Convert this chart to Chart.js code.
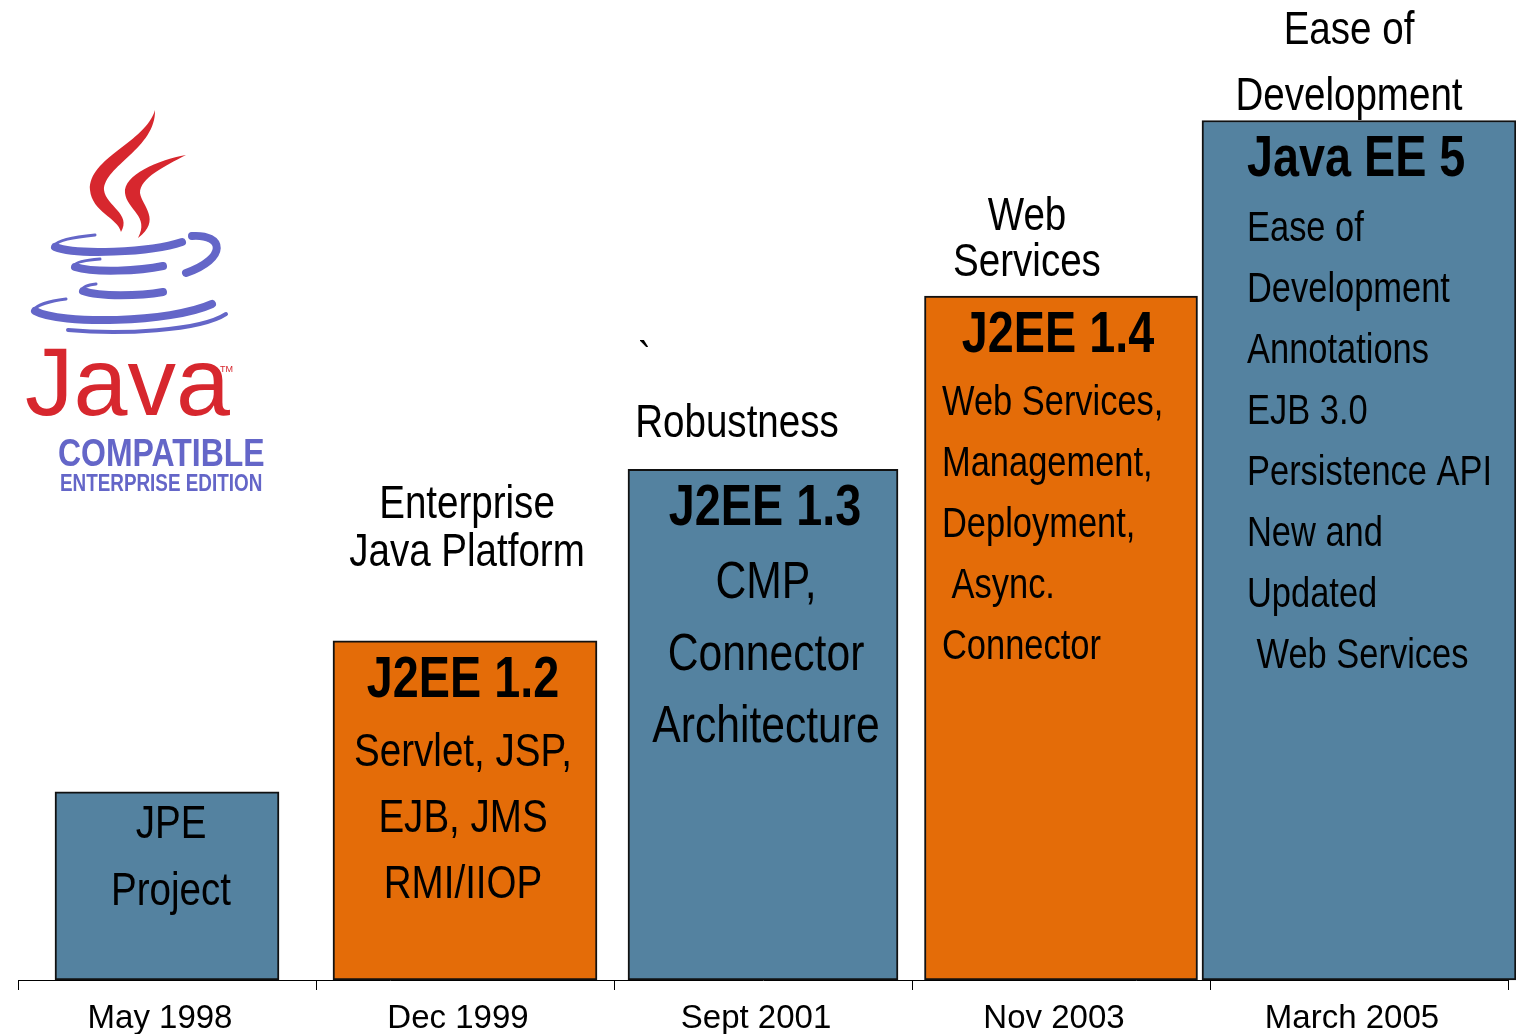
<!DOCTYPE html>
<html>
<head>
<meta charset="utf-8">
<script src="https://cdn.jsdelivr.net/npm/chart.js@4.4.1/dist/chart.umd.min.js"></script>
<style>
    html, body { margin: 0; padding: 0; background: #fff; }
    #javaChart { display: block; }
</style>
</head>
<body>
<canvas id="javaChart" width="1516" height="1034"></canvas>
<script>
// release dates on the x axis
const releases = ["May 1998", "Dec 1999", "Sept 2001", "Nov 2003", "March 2005"];
// relative height of each step (0-100)
const heights = [19.2, 34.6, 52.1, 69.8, 87.7];
const titles = ["", "J2EE 1.2", "J2EE 1.3", "J2EE 1.4", "Java EE 5"];
const features = [
    ["JPE", "Project"],
    ["Servlet, JSP,", "EJB, JMS", "RMI/IIOP"],
    ["CMP,", "Connector", "Architecture"],
    ["Web Services,", "Management,", "Deployment,", " Async.", "Connector"],
    ["Ease of", "Development", "Annotations", "EJB 3.0", "Persistence API", "New and", "Updated", " Web Services"],
];
const themes = [
    [],
    ["Enterprise", "Java Platform"],
    ["`", "Robustness"],
    ["Web", "Services"],
    ["Ease of", "Development"],
];

// styling
const BLUE = "rgb(84,130,160)";
const ORANGE = "rgb(228,108,8)";
const RED = "#d7272e";
const LOGO_BLUE = "#6466c8";
const barColors = [BLUE, ORANGE, BLUE, ORANGE, BLUE];
const barWidths = [224, 264, 270, 273, 314];
const FONT = '"Liberation Sans", Arial, sans-serif';

// text layout inside each box (offsets from the bar centre / bar top)
const boxStyle = [
    { align: "center", dx: 4, titleDx: 4, titleAlign: "center", titleDy: 0, lineDy: 46, gap: 67, size: 47 },
    { align: "center", dx: -2, titleDx: -2, titleAlign: "center", titleDy: 56, lineDy: 125, gap: 66, size: 47 },
    { align: "center", dx: 3, titleDx: 2, titleAlign: "center", titleDy: 56, lineDy: 129, gap: 72, size: 52 },
    { align: "left", dx: -119, titleDx: -3, titleAlign: "center", titleDy: 56, lineDy: 119, gap: 61, size: 42 },
    { align: "left", dx: -112, titleDx: -112, titleAlign: "left", titleDy: 55, lineDy: 120, gap: 61, size: 42 },
];
// text layout of the theme captions above each box
const themeStyle = [
    [],
    [{ dx: 2, dy: -123, align: "center" }, { dx: 2, dy: -75, align: "center" }],
    [{ dx: -125, dy: -95, align: "left" }, { dx: -26, dy: -32, align: "center" }],
    [{ dx: -34, dy: -66, align: "center" }, { dx: -34, dy: -20, align: "center" }],
    [{ dx: -10, dy: -77, align: "center" }, { dx: -10, dy: -11, align: "center" }],
];

function narrowText(ctx, str, x, y, size, bold, align, color) {
    ctx.save();
    ctx.font = (bold ? "bold " : "") + size + "px " + FONT;
    ctx.textAlign = align;
    ctx.textBaseline = "alphabetic";
    ctx.fillStyle = color || "#000";
    ctx.translate(x, y);
    ctx.scale(0.82, 1);
    ctx.fillText(str, 0, 0);
    ctx.restore();
}

const boxText = {
    id: "boxText",
    afterDatasetsDraw(chart) {
        const ctx = chart.ctx;
        releases.forEach((r, i) => {
            const bar = chart.getDatasetMeta(i).data[i];
            if (!bar) return;
            const st = boxStyle[i];
            if (titles[i]) {
                narrowText(ctx, titles[i], bar.x + st.titleDx, bar.y + st.titleDy, 57, true, st.titleAlign);
            }
            features[i].forEach((line, k) => {
                narrowText(ctx, line, bar.x + st.dx, bar.y + st.lineDy + k * st.gap, st.size, false, st.align);
            });
            themes[i].forEach((line, k) => {
                const p = themeStyle[i][k];
                narrowText(ctx, line, bar.x + p.dx, bar.y + p.dy, 47, false, p.align);
            });
        });
    },
};

function curve(ctx, width, pts) {
    ctx.lineWidth = width;
    ctx.beginPath();
    ctx.moveTo(pts[0], pts[1]);
    for (let k = 2; k < pts.length; k += 6) {
        ctx.bezierCurveTo(pts[k], pts[k + 1], pts[k + 2], pts[k + 3], pts[k + 4], pts[k + 5]);
    }
    ctx.stroke();
}

// the Java Compatible logo in the upper left corner
const javaLogo = {
    id: "javaLogo",
    afterDraw(chart) {
        const ctx = chart.ctx;
        ctx.save();
        ctx.lineCap = "round";
        ctx.lineJoin = "round";

        // steam
        ctx.fillStyle = RED;
        ctx.beginPath();
        ctx.moveTo(155, 110);
        ctx.bezierCurveTo(146, 142, 88, 158, 90, 190);
        ctx.bezierCurveTo(92, 212, 118, 218, 121, 232);
        ctx.bezierCurveTo(132, 214, 106, 206, 104, 190);
        ctx.bezierCurveTo(104, 166, 156, 148, 155, 110);
        ctx.closePath();
        ctx.fill();
        ctx.beginPath();
        ctx.moveTo(186, 155);
        ctx.bezierCurveTo(158, 160, 123, 175, 125, 193);
        ctx.bezierCurveTo(127, 210, 150, 216, 138, 238);
        ctx.bezierCurveTo(162, 220, 142, 206, 140, 193);
        ctx.bezierCurveTo(140, 178, 165, 166, 186, 155);
        ctx.closePath();
        ctx.fill();

        // cup
        ctx.strokeStyle = LOGO_BLUE;
        curve(ctx, 3, [95, 235, 75, 237, 58, 240, 55, 245]);
        curve(ctx, 8, [55, 247, 75, 255, 150, 253, 182, 242]);
        curve(ctx, 8, [192, 236, 224, 234, 228, 258, 186, 273]);
        curve(ctx, 3, [100, 259, 88, 260, 76, 262, 75, 265]);
        curve(ctx, 8, [75, 267, 95, 273, 140, 271, 163, 266]);
        curve(ctx, 3, [96, 284, 88, 285, 83, 287, 83, 289]);
        curve(ctx, 8, [83, 291, 100, 297, 140, 296, 163, 292]);
        // saucer
        curve(ctx, 3, [66, 299, 50, 301, 37, 305, 35, 309]);
        curve(ctx, 8, [35, 311, 60, 325, 170, 323, 212, 304]);
        curve(ctx, 4, [68, 330, 120, 335, 200, 331, 226, 314]);

        // wordmark
        ctx.fillStyle = RED;
        ctx.font = "97px " + FONT;
        ctx.textAlign = "left";
        ctx.textBaseline = "alphabetic";
        ctx.fillText("Java", 25, 415);
        ctx.font = "9px " + FONT;
        ctx.fillText("TM", 220, 372);
        ctx.restore();

        narrowText(ctx, "COMPATIBLE", 58, 466, 39, true, "left", LOGO_BLUE);
        narrowText(ctx, "ENTERPRISE EDITION", 60, 491, 23, true, "left", LOGO_BLUE);
    },
};

const datasets = releases.map((r, i) => ({
    label: titles[i] || "JPE",
    data: heights.map((h, j) => (j === i ? h : null)),
    backgroundColor: barColors[i],
    borderColor: "#111",
    borderWidth: 2,
    borderSkipped: false,
    barThickness: barWidths[i],
    grouped: false,
    clip: false,
}));

const config = {
    type: "bar",
    data: {
        labels: releases,
        datasets: datasets,
    },
    options: {
        responsive: false,
        animation: false,
        layout: {
            padding: { left: 18, right: 8, top: 0, bottom: 0 },
        },
        scales: {
            x: {
                offset: true,
                grid: {
                    display: true,
                    offset: true,
                    drawOnChartArea: false,
                    drawTicks: true,
                    tickLength: 10,
                    color: "#000",
                    lineWidth: 1,
                },
                border: { display: true, color: "#000", width: 1 },
                ticks: {
                    color: "#000",
                    font: { family: FONT, size: 33 },
                    padding: 9,
                    labelOffset: -7,
                    maxRotation: 0,
                    autoSkip: false,
                },
                afterFit: (scale) => {
                    scale.height = 54;
                },
            },
            y: {
                display: false,
                min: 0,
                max: 100,
            },
        },
        plugins: {
            legend: { display: false },
            tooltip: { enabled: false },
        },
    },
    plugins: [boxText, javaLogo],
};

const myChart = new Chart(document.getElementById("javaChart"), config);
</script>
</body>
</html>
